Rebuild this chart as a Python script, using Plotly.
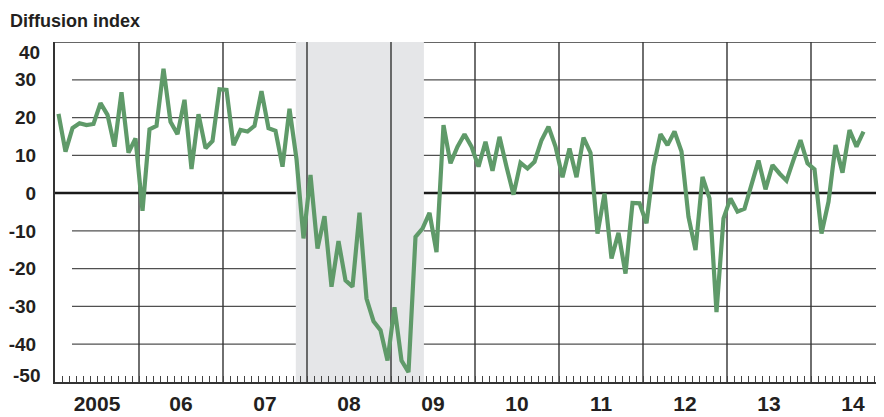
import plotly.graph_objects as go

# Monthly diffusion index, Jan 2005 - Aug 2014
values_2005 = [21, 11, 17.2, 18.5, 18, 18.3, 23.8, 20.7, 12.3, 26.7, 10.7, 14.5]
values_2006 = [-4.7, 16.9, 17.8, 32.9, 18.9, 15.6, 24.7, 6.4, 20.9, 11.9, 13.8, 27.5]
values_2007 = [27.3, 12.7, 16.7, 16.3, 17.8, 27, 17.2, 16.5, 7, 22.3, 9, -12]
values_2008 = [4.8, -14.7, -6.1, -24.8, -12.7, -23.1, -24.8, -5.2, -27.9, -33.9, -36.3, -44.3]
values_2009 = [-30.2, -44.3, -47.4, -11.6, -9.4, -5.2, -15.6, 18, 7.9, 12.3, 15.6, 12.3]
values_2010 = [7, 13.6, 5.9, 14.9, 7, -0.4, 8, 6.5, 8.3, 14, 17.6, 12.3]
values_2011 = [4.2, 11.8, 4.2, 14.7, 10.7, -10.7, -0.1, -17.3, -10.5, -21.3, -2.6, -2.7]
values_2012 = [-8, 7, 15.6, 12.7, 16.3, 11, -6.3, -15.1, 4.3, -1.4, -31.5, -6.7]
values_2013 = [-1.4, -4.9, -4.1, 2.6, 8.6, 1, 7.4, 5.2, 3.3, 8.8, 14, 7.9]
values_2014 = [6.3, -10.7, -2.3, 12.7, 5.4, 16.7, 12.3, 16.3]

values = (values_2005 + values_2006 + values_2007 + values_2008 + values_2009
          + values_2010 + values_2011 + values_2012 + values_2013 + values_2014)

# x positions: month index (centre of each month), 0 = start of Jan 2005
months = [i + 0.5 for i in range(len(values))]

year_labels = ["2005", "06", "07", "08", "09", "10", "11", "12", "13", "14"]
year_label_pos = [12 * k + 6 for k in range(len(year_labels))]
year_boundaries = [12 * k for k in range(1, 10)]

y_ticks = [-40, -30, -20, -10, 0, 10, 20, 30]
y_gridlines = [-40, -30, -20, -10, 10, 20, 30]

recession_start = 34.4   # months since Jan 2005
recession_end = 52.7

ink = "#231f20"
green = "#5f9a69"

# page body has an 8px margin, so the figure is sized to fit the window
FIG_W, FIG_H = 876, 409
M_L, M_R, M_T, M_B = 47, 0, 34, 35
PLOT_W = FIG_W - M_L - M_R
PLOT_H = FIG_H - M_T - M_B

fig = go.Figure()
fig.add_trace(go.Scatter(
    x=months, y=values, mode="lines",
    line=dict(color=green, width=4.2),
    hoverinfo="skip", showlegend=False,
))

shapes = []
shapes.append(dict(type="rect", xref="x", yref="y", x0=recession_start, x1=recession_end,
                   y0=-50, y1=40, fillcolor="#e5e6e8", line=dict(width=0), layer="below"))
for g in y_gridlines:
    shapes.append(dict(type="line", xref="paper", yref="y", x0=17 / PLOT_W, x1=1, y0=g, y1=g,
                       line=dict(color="#505050", width=1.3), layer="below"))
for xb in year_boundaries:
    shapes.append(dict(type="line", xref="x", yref="y", x0=xb, x1=xb, y0=-50, y1=40,
                       line=dict(color="#333333", width=1.4), layer="below"))
shapes.append(dict(type="line", xref="paper", yref="y", x0=0, x1=1, y0=40, y1=40,
                   line=dict(color="#333333", width=1.5), layer="below"))
shapes.append(dict(type="line", xref="paper", yref="y", x0=0, x1=1, y0=0, y1=0,
                   line=dict(color="#1a1a1a", width=2.5), layer="below"))

annotations = [
    dict(text="Diffusion index", xref="paper", yref="paper", x=-M_L / PLOT_W, y=1 + 21 / PLOT_H,
         xanchor="left", yanchor="middle", showarrow=False, xshift=0,
         font=dict(family="Liberation Sans Narrow, Liberation Sans, Arial", size=18,
                   color=ink, weight="bold")),
    dict(text="40", xref="paper", yref="y", x=0, y=40, xanchor="right", yanchor="middle",
         xshift=-13, yshift=-10, showarrow=False,
         font=dict(family="Liberation Sans, Arial", size=19, color=ink, weight="bold")),
    dict(text="-50", xref="paper", yref="y", x=0, y=-50, xanchor="right", yanchor="middle",
         xshift=-13, yshift=7, showarrow=False,
         font=dict(family="Liberation Sans, Arial", size=19, color=ink, weight="bold")),
]

fig.update_layout(
    width=FIG_W, height=FIG_H,
    margin=dict(l=M_L, r=M_R, t=M_T, b=M_B, autoexpand=False),
    paper_bgcolor="white", plot_bgcolor="white",
    shapes=shapes, annotations=annotations,
    showlegend=False,
)

fig.update_xaxes(
    range=[0, PLOT_W / 7], showgrid=False, zeroline=False, automargin=False,
    showline=True, linecolor="#333333", linewidth=1.5,
    tickvals=year_label_pos, ticktext=year_labels,
    ticks="inside", ticklen=6, tickcolor="#444444", tickwidth=1,
    tickfont=dict(family="Liberation Sans, Arial", size=21, color=ink, weight="bold"),
    ticklabelstandoff=2,
    minor=dict(ticks="inside", dtick=1, tick0=0, ticklen=6, tickcolor="#444444",
               tickwidth=1, showgrid=False),
    fixedrange=True,
)
fig.update_yaxes(
    range=[-50, 40], showgrid=False, zeroline=False, automargin=False,
    showline=True, linecolor="#333333", linewidth=2,
    tickvals=y_ticks, ticktext=[str(v) for v in y_ticks],
    ticks="", ticklabelstandoff=13,
    tickfont=dict(family="Liberation Sans, Arial", size=19, color=ink, weight="bold"),
    fixedrange=True,
)

fig.write_html("out.html")
